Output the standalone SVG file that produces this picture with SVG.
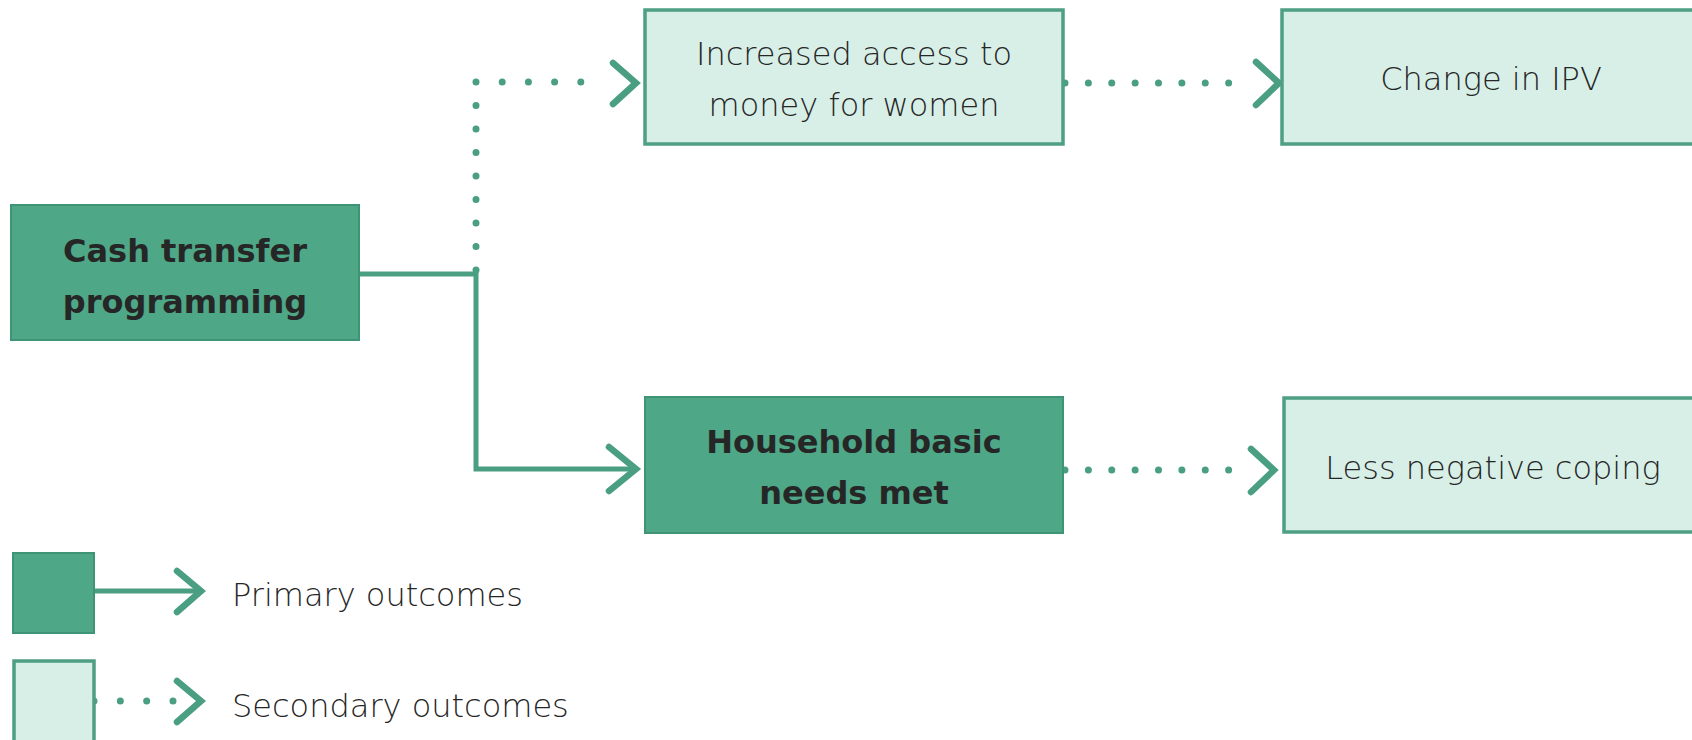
<svg xmlns="http://www.w3.org/2000/svg" width="1692" height="740" viewBox="0 0 1692 740">
  <style>
    .prim { fill: #4ea787; stroke: #3f9476; stroke-width: 2; }
    .sec { fill: #d7efe6; stroke: #4e9f84; stroke-width: 3.5; }
    .solid { fill: none; stroke: #4a9f82; stroke-width: 5; }
    .dots { fill: none; stroke: #4a9f82; stroke-width: 7; stroke-linecap: round; }
    .chev { fill: none; stroke: #4a9f82; stroke-width: 6.5; stroke-linecap: round; stroke-linejoin: miter; }
    .bold { font-family: "DejaVu Sans", "Liberation Sans", sans-serif; font-weight: bold; font-size: 32px; fill: #262626; text-anchor: middle; }
    .light { font-family: "DejaVu Sans", "Liberation Sans", sans-serif; font-weight: 200; font-size: 32px; fill: #262626; text-anchor: middle; }
    .legend { font-family: "DejaVu Sans", "Liberation Sans", sans-serif; font-weight: 200; font-size: 32px; fill: #262626; }
  </style>
  <rect width="1692" height="740" fill="#ffffff"/>

  <g id="connectors">
    <!-- Cash transfer -> Household basic needs met (primary) -->
    <path class="solid" d="M359 274 H476 V469 H633"/>
    <path class="chev" d="M609 447 L636 469 L609 491"/>
    <!-- Cash transfer -> Increased access (secondary) -->
    <path class="dots" d="M476 270 V82" stroke-dasharray="0 23.5"/>
    <path class="dots" d="M476 82 H607" stroke-dasharray="0 26.2"/>
    <path class="chev" d="M613 63 L636 83 L613 104"/>
    <!-- Increased access -> Change in IPV -->
    <path class="dots" d="M1065 83 H1252" stroke-dasharray="0 23.375"/>
    <path class="chev" d="M1256 62 L1279 83 L1256 105"/>
    <!-- Household -> Less negative coping -->
    <path class="dots" d="M1065 470 H1252" stroke-dasharray="0 23.375"/>
    <path class="chev" d="M1251 449 L1274 470 L1251 492"/>
    <!-- Legend connectors -->
    <path class="solid" d="M94 591 H198"/>
    <path class="chev" d="M177 571 L201 591 L177 612"/>
    <path class="dots" d="M94 701 H173" stroke-dasharray="0 26.33"/>
    <path class="chev" d="M177 681 L201 701 L177 722"/>
  </g>

  <g id="node-cash">
    <rect class="prim" x="11" y="205" width="348" height="135"/>
    <text class="bold" x="185" y="262">Cash transfer</text>
    <text class="bold" x="185" y="313">programming</text>
  </g>

  <g id="node-access">
    <rect class="sec" x="645" y="10" width="418" height="134"/>
    <text class="light" x="854" y="65">Increased access to</text>
    <text class="light" x="854" y="116">money for women</text>
  </g>

  <g id="node-ipv">
    <rect class="sec" x="1282" y="10" width="418" height="134"/>
    <text class="light" x="1491" y="90">Change in IPV</text>
  </g>

  <g id="node-household">
    <rect class="prim" x="645" y="397" width="418" height="136"/>
    <text class="bold" x="854" y="453">Household basic</text>
    <text class="bold" x="854" y="504">needs met</text>
  </g>

  <g id="node-coping">
    <rect class="sec" x="1284" y="398" width="418" height="134"/>
    <text class="light" x="1493" y="479">Less negative coping</text>
  </g>

  <g id="legend-primary">
    <rect class="prim" x="13" y="553" width="81" height="80"/>
    <text class="legend" x="232" y="606">Primary outcomes</text>
  </g>

  <g id="legend-secondary">
    <rect class="sec" x="14" y="661" width="80" height="85"/>
    <text class="legend" x="232" y="717">Secondary outcomes</text>
  </g>
</svg>
